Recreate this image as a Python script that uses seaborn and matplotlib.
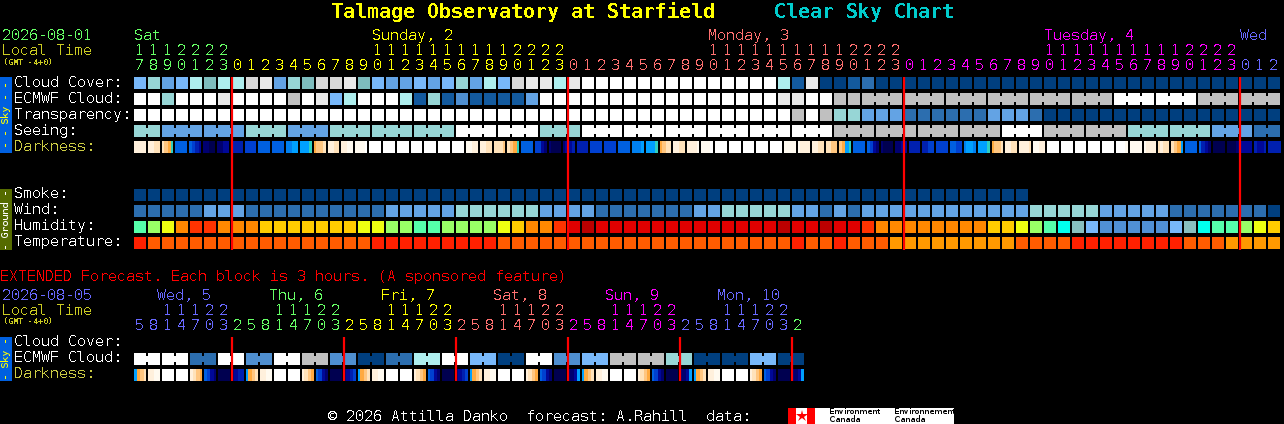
import matplotlib
matplotlib.use('Agg')
import matplotlib.pyplot as plt
import numpy as np
import seaborn as sns
from matplotlib.colors import ListedColormap

W, H = 1284, 424
plt.rcParams['font.family'] = ['DejaVu Sans Mono', 'DejaVu Sans']
plt.rcParams['text.hinting'] = 'native'
plt.rcParams['text.hinting_factor'] = 1

# hourly block, starts at 17h on Saturday
hours = [17, 18, 19, 20, 21, 22, 23] + list(range(24)) + list(range(24)) + list(range(24)) + [0, 1, 2]
hour_days = [0] * 7 + [1] * 24 + [2] * 24 + [3] * 24 + [4] * 3

# 3 hourly block
ext_hours = [5, 8, 11, 14, 17, 20, 23,
             2, 5, 8, 11, 14, 17, 20, 23,
             2, 5, 8, 11, 14, 17, 20, 23,
             2, 5, 8, 11, 14, 17, 20, 23,
             2, 5, 8, 11, 14, 17, 20, 23,
             2, 5, 8, 11, 14, 17, 20, 23,
             2]
ext_days = [4] * 7 + [0] * 8 + [1] * 8 + [2] * 8 + [3] * 8 + [4] * 8 + [0]

day_colors = ['#66FF66', '#FFFF00', '#FF7070', '#FF00FF', '#6868FF']

day_labels = ['Sat', 'Sunday, 2', 'Monday, 3', 'Tuesday, 4', 'Wed']
day_label_cols = [0, 17, 41, 65, 79]
day_label_colors = [0, 1, 2, 3, 4]
ext_day_labels = ['Wed, 5', 'Thu, 6', 'Fri, 7', 'Sat, 8', 'Sun, 9', 'Mon, 10']
ext_label_colors = [4, 0, 1, 2, 3, 4]

# 0 = dark blue ... 12 = white
cloud_colors = ['#003F7F', '#135A9E', '#2C6EAF', '#4F8FD0', '#63A3E4', '#78B8FA', '#AEEEEE',
                '#97D6D6', '#7EBDBE', '#C0C0C0', '#D8D8D8', '#E9E9E9', '#FFFFFF']

cloud_cover = [5, 7, 4, 5, 6, 8, 6, 6, 10, 11, 4, 7, 8, 10, 10, 11, 8,
               5, 4, 4, 5, 4, 5, 7, 4, 6, 5, 10, 11, 11, 6,
               11, 12, 12, 12, 12, 12, 12, 12, 12, 12, 12, 12, 12, 12, 12,
               6, 1, 11, 0, 0, 1,
               2] + [0] * 29
ecmwf_cloud = [12, 12, 7, 12, 12, 12, 11, 12, 12, 12, 12, 9, 12, 11, 5, 6, 12, 12, 12, 6, 1,
               7, 1, 3, 1, 1, 1, 1, 4, 12, 12,
               12, 12, 12, 12, 12, 12, 12, 12, 12, 12, 12, 12, 12, 12, 12,
               11, 11, 12, 12, 9, 9] + [9] * 18 + [12] * 6 + [9] * 6
ecmwf_blocks = [1] * 52 + [3] * 10
transparency = [12] * 47 + [9, 12, 9, 7, 7, 4, 4, 4, 2, 2, 2, 2, 2, 2, 4, 4, 4, 2] + [0] * 17
seeing = [7, 7, 4, 4, 4, 4, 4, 4, 7, 7, 7, 4, 4, 4, 7, 7, 7, 7, 7, 7, 7, 7, 7,
          12, 12, 12, 12, 12, 12, 7, 7, 7] + [12] * 18 + [9] * 12 + [12] * 3 + [9] * 6 + \
         [7] * 6 + [4] * 3 + [2] * 2
seeing_blocks = [2] + [3] * 26 + [2]
smoke = [0] * 64 + [np.nan] * 18
wind = [2, 2, 2, 2, 2, 4, 4, 4, 2, 2, 2, 2, 2, 2, 2, 2, 2, 2, 4, 4, 4,
        4, 4, 7, 7, 7, 7, 7, 7, 4, 4, 4, 4, 2, 2, 2, 2, 2, 2, 2, 4, 4,
        7, 7, 7, 7, 7, 4, 4, 2, 4, 2,
        4, 4, 4, 4, 4, 4, 4, 4, 4, 4, 4, 4, 7, 7, 7, 7, 7, 4, 4, 4, 4, 4,
        2, 2, 2, 2, 2, 2, 2, 0]

humidity_colors = ['#BB0000', '#E00000', '#FF3300', '#FF8800', '#FFCC00', '#EEFF11', '#99FF66',
                   '#55FFAA', '#00FFEE', '#88BFBF', '#78B8FA', '#5090D4']
humidity = [7, 6, 5, 3, 2, 2, 3, 3, 3, 4, 4, 4, 4, 4, 4, 4, 5, 5, 6, 6, 7,
            7, 6, 6, 6, 6, 5, 4, 3, 3, 2, 1, 0, 1, 1, 1, 1, 1, 1, 1, 1, 1, 1, 1, 1, 1,
            0, 1, 1, 0, 1, 1,
            2, 3, 3, 3, 3, 3, 3, 3, 3, 4, 4, 5, 6, 7, 8, 9, 10, 11, 11, 11, 11, 11,
            10, 9, 8, 7, 7, 6, 5, 4]

temp_colors = ['#FF2000', '#FF5C00', '#FF9900']
temperature = [0] + [1] * 16 + [0] * 9 + [1] * 21 + [0, 1, 1, 0, 1, 1, 1] + [2] * 9 + [1, 1, 1, 1] + \
              [0] * 8 + [1, 1, 1] + [2] * 4

# extended block, one value for each 6 hour pair
ext_ecmwf = [12, 12, 2, 12, 3, 12, 9, 3, 0, 2, 6, 12, 5, 0, 12, 3, 5, 9, 9, 7, 0, 0, 5, 0]

# darkness: four samples across each block
darkness_colors = ['#FFFFFF', '#FFFAF0', '#FFF0DC', '#FFE2BA', '#FFC680', '#FFAA40', '#30D0C0',
                   '#00A0FF', '#0080F0', '#0060E0', '#0040D0', '#0020B0', '#000898', '#000070', '#000050']
WH, C1, C2, C3, C4, C5, TL, AZ, B1, B2, B3, B4, B5, B6, B7 = range(15)
darkness = [
    C2, C2, C2, C2,  C2, C2, C3, C3,  C3, C4, C5, TL,  B2, B2, B2, B2,
    B2, B3, B4, B5,  B6, B6, B7, B7,  B6, B6, B5, B5,  B4, B4, B4, B4,
    B3, B3, B3, B3,  B2, B2, B2, B2,  B2, B2, B2, B2,  B1, B1, AZ, AZ,  AZ, AZ, AZ, TL,
    C5, C4, C4, C3,  C2, C2, C3, C3,  C2, C2, C1, C1,  C1, C1, C1, WH,
    WH, WH, WH, WH,  WH, WH, WH, WH,  WH, WH, WH, WH,  WH, WH, WH, WH,  WH, WH, WH, WH,
    WH, WH, WH, WH,  WH, WH, WH, WH,  C1, C1, C2, C2,  C2, C2, C3, C3,  C3, C3, C3, C4,
    C3, C4, C5, TL,  B2, B2, B2, B2,  B3, B3, B5, B6,  B6, B7, B7, B7,  B6, B5, B5, B4,
    B4, B4, B4, B4,  B3, B3, B3, B3,  B3, B3, B3, B3,  B2, B2, B2, B2,  B1, B1, B1, AZ,
    AZ, AZ, AZ, TL,  C5, C4, C3, C3,  C2, C2, C3, C3,  C2, C2, C2, C1,  C1, C1, C1, WH,
    WH, WH, WH, WH,  WH, WH, WH, WH,  WH, WH, WH, WH,  WH, WH, WH, WH,  WH, WH, WH, WH,
    C1, C1, C1, C1,  C1, C2, C2, C2,  C2, C2, C3, C3,  C3, C3, C4, C4,  C4, C5, AZ, TL,
    B2, B2, B2, B2,  B2, B3, B5, B6,  B6, B7, B7, B7,  B6, B6, B5, B5,  B4, B4, B4, B4,
    B4, B4, B3, B3,  B3, B3, B3, B3,  B2, B2, B3, B3,  B1, AZ, AZ, B1,  AZ, AZ, AZ, TL,
    C5, C4, C4, C3,  C2, C2, C3, C3,  C2, C2, C2, C3,  C1, C1, C2, C2,  WH, WH, WH, WH,
    WH, WH, WH, WH,  WH, WH, WH, WH,  WH, WH, WH, WH,  WH, WH, WH, WH,  WH, WH, WH, C1,
    C1, C1, C1, C1,  C1, C2, C2, C2,  C3, C2, C3, C3,  C3, C4, C5, AZ,  B2, B2, B2, B2,
    B2, B4, B5, B6,  B7, B7, B7, B7,  B7, B7, B7, B6,  B5, B5, B5, B5,
    B4, B5, B5, B4,  B4, B4, B4, B4,
]
ext_darkness = [
    AZ, C5, C4, C3,  C2, C2, C1, C1,  WH, WH, WH, WH,  WH, WH, WH, WH,
    C2, C3, C4, C5,  B2, B3, B5, B6,  B7, B7, B7, B7,  B6, B5, B4, B4,
    AZ, C5, C4, C3,  C2, C2, C1, C1,  WH, WH, WH, WH,  WH, WH, WH, WH,
    C2, C3, C4, C5,  B2, B3, B5, B6,  B7, B7, B7, B7,  B6, B5, B4, B3,
    AZ, C5, C4, C3,  C2, C2, C1, C1,  WH, WH, WH, WH,  WH, WH, WH, WH,
    C2, C3, C4, C5,  B2, B3, B5, B6,  B7, B7, B7, B7,  B6, B5, B4, B3,
    AZ, C5, C4, C3,  C2, C2, C1, C1,  WH, WH, WH, WH,  WH, WH, WH, WH,
    C2, C3, C4, C5,  B2, B3, B5, B6,  B7, B7, B7, B7,  B6, B6, B5, AZ,
    AZ, C5, C4, C3,  C2, C2, C1, C1,  WH, WH, WH, WH,  WH, WH, WH, WH,
    C2, C3, C4, C5,  B2, B3, B5, B6,  B7, B7, B7, B7,  B6, B6, B5, AZ,
    AZ, C5, C4, C3,  C2, C2, C1, C1,  WH, WH, WH, WH,  WH, WH, WH, WH,
    C2, C3, C4, C5,  B2, B3, B5, B6,  B7, B7, B7, B7,  B6, B6, B5, AZ,
]

CELL = 14
LEFT = 134
PX = 72 / 100   # points per pixel at dpi 100

fig = plt.figure(figsize=(W / 100, H / 100), dpi=100, facecolor='black')


def pixel_axes(x, y, w, h):
    ax = fig.add_axes([x / W, 1 - (y + h) / H, w / W, h / H])
    ax.set_facecolor('black')
    return ax


def draw_row(values, colors, top, blocks=None):
    # cell is 12x12 px inside a 14x14 px axes, the black mesh edge makes the gap
    n = len(values)
    ax = pixel_axes(LEFT - 1, top - 1, n * CELL, CELL)
    sns.heatmap([values], ax=ax, cmap=ListedColormap(colors), vmin=-0.5, vmax=len(colors) - 0.5,
                cbar=False, xticklabels=False, yticklabels=False,
                linewidths=2 * PX, linecolor='black')
    # forecast blocks longer than one cell are joined by a small bridge
    if blocks is not None:
        start = 0
        for size in blocks:
            for k in range(start + 1, start + size):
                ax.vlines(k, 0.28, 0.72, color=colors[int(values[k])], lw=2.4 * PX)
            start += size


def draw_dark(values, n, top):
    ax = pixel_axes(LEFT - 1, top, n * CELL, CELL - 2)
    sns.heatmap([values], ax=ax, cmap=ListedColormap(darkness_colors), vmin=-0.5, vmax=14.5,
                cbar=False, xticklabels=False, yticklabels=False)
    ax.vlines(np.arange(n + 1) * 4, 0, 1, color='black', lw=2 * PX)


draw_row(cloud_cover, cloud_colors, 77)
draw_row(ecmwf_cloud, cloud_colors, 93, ecmwf_blocks)
draw_row(transparency, cloud_colors, 109)
draw_row(seeing, cloud_colors, 125, seeing_blocks)
draw_dark(darkness, 82, 141)
draw_row(smoke, cloud_colors, 189)
draw_row(wind, cloud_colors, 205)
draw_row(humidity, humidity_colors, 221)
draw_row(temperature, temp_colors, 237)
draw_row(list(np.repeat(ext_ecmwf, 2)), cloud_colors, 353, [2] * 24)
draw_dark(ext_darkness, 48, 369)

# overlay in pixel coordinates for the text, strips and midnight lines
ov = fig.add_axes([0, 0, 1, 1], zorder=5)
ov.set_xlim(0, W)
ov.set_ylim(H, 0)
ov.axis('off')
ov.patch.set_visible(False)


def txt(x, y, s, color='white', size=10.8, **kw):
    ov.text(x, y, s, color=color, fontsize=size, va='baseline', antialiased=False, **kw)


txt(331, 18, 'Talmage Observatory at Starfield', '#FFFF00', 14.4, fontweight='bold')
txt(774, 18, 'Clear Sky Chart', '#00CCCC', 14.4, fontweight='bold')

# hourly header
txt(2, 40, '2026-08-01', day_colors[0])
txt(2, 55, 'Local Time', '#CCCC22')
txt(3, 65, '(GMT -4+0)', '#CCCC22', 5.6)
for label, col, c in zip(day_labels, day_label_cols, day_label_colors):
    txt(LEFT + col * CELL, 40, label, day_colors[c])
for i, (hr, d) in enumerate(zip(hours, hour_days)):
    x = LEFT + 1 + i * CELL
    if hr >= 10:
        txt(x, 55, str(hr // 10), day_colors[d])
    txt(x, 70, str(hr % 10), day_colors[d])

for y, s, c in [(87, 'Cloud Cover:', 'white'), (103, 'ECMWF Cloud:', 'white'), (119, 'Transparency:', 'white'),
                (135, 'Seeing:', 'white'), (151, 'Darkness:', '#CCCC44'),
                (198, 'Smoke:', 'white'), (214, 'Wind:', 'white'), (230, 'Humidity:', 'white'),
                (246, 'Temperature:', 'white'),
                (346, 'Cloud Cover:', 'white'), (362, 'ECMWF Cloud:', 'white'), (378, 'Darkness:', '#CCCC44')]:
    txt(14, y, s, c)

# extended header
txt(0, 281, 'EXTENDED Forecast. Each block is 3 hours. (A sponsored feature)', '#FF0000')
txt(2, 300, '2026-08-05', day_colors[4])
txt(2, 315, 'Local Time', '#CCCC22')
txt(3, 324, '(GMT -4+0)', '#CCCC22', 5.6)
for k, (label, c) in enumerate(zip(ext_day_labels, ext_label_colors)):
    txt(157 + k * 8 * CELL, 300, label, day_colors[c])
for i, (hr, d) in enumerate(zip(ext_hours, ext_days)):
    x = LEFT + 1 + i * CELL
    if hr >= 10:
        txt(x, 315, str(hr // 10), day_colors[d])
    txt(x, 330, str(hr % 10), day_colors[d])

# side strips
for y0, y1, c, tc, s in [(77, 153, '#0060E0', '#FFFF00', '- - Sky - -'),
                         (189, 250, '#556B00', 'white', '- Ground -'),
                         (337, 381, '#0060E0', '#FFFF00', '- Sky -')]:
    ov.fill_between([0, 12], y0, y1, color=c, lw=0)
    ov.text(6, (y0 + y1) / 2, s, color=tc, fontsize=7, rotation=90, ha='center', va='center')

# midnight lines
ov.vlines([LEFT - 2 + CELL * c + 2 for c in [7, 31, 55, 79]], 77, 250, color='#FF0000', lw=2.2 * PX)
ov.vlines([LEFT - 2 + CELL * c + 2 for c in [7, 15, 23, 31, 39, 47]], 337, 381, color='#FF0000', lw=2.2 * PX)

# footer
txt(328, 421, '\u00a9 2026 Attilla Danko  forecast: A.Rahill  data:')
ov.fill_between([788, 954], 408, 424, color='white', lw=0)
ov.fill_between([788, 796], 408, 424, color='#FF0000', lw=0)
ov.fill_between([807, 815], 408, 424, color='#FF0000', lw=0)
ov.plot([801.5], [415.5], marker='*', ms=9, color='#FF0000', mew=0)
for x, a in [(829, 'Environment'), (894, 'Environnement')]:
    ov.text(x, 414, a, color='black', fontsize=5.9, family='DejaVu Sans', va='baseline')
    ov.text(x, 422, 'Canada', color='black', fontsize=5.9, family='DejaVu Sans', va='baseline')

fig.savefig('out.png', dpi=100, facecolor='black')
